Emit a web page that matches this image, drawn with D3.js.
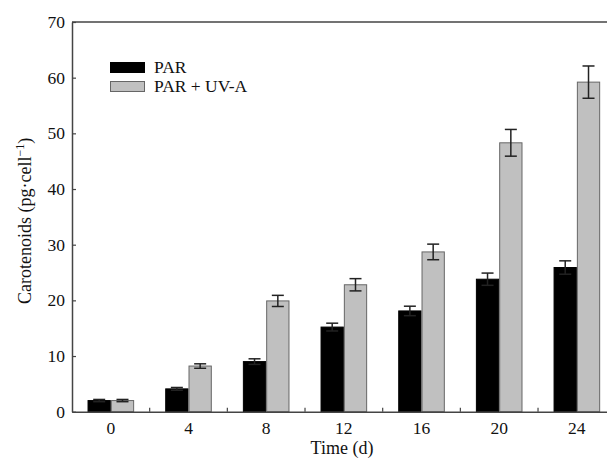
<!DOCTYPE html>
<html>
<head>
<meta charset="utf-8">
<script src="https://cdn.jsdelivr.net/npm/d3@7"></script>
<style>
  html, body { margin: 0; padding: 0; background: #fff; overflow: hidden; }
  svg { display: block; }
  svg text { font-family: "Liberation Serif", "Times New Roman", serif; fill: #111; }
</style>
</head>
<body>
<div id="chart"></div>
<script>
// days of culture
let days = ["0", "4", "8", "12", "16", "20", "24"];
// carotenoids, pg per cell
let parValues = [2.0, 4.1, 9.0, 15.2, 18.1, 23.8, 25.9];
let parErrors = [0.2, 0.25, 0.5, 0.7, 0.85, 1.1, 1.2];
let uvaValues = [2.0, 8.2, 19.9, 22.8, 28.7, 48.3, 59.2];
let uvaErrors = [0.2, 0.4, 1.0, 1.1, 1.4, 2.4, 2.9];
let yTicks = [0, 10, 20, 30, 40, 50, 60, 70];
let seriesNames = ["PAR", "PAR + UV-A"];

let width = 607;
let height = 458;
let plotLeft = 72, plotRight = 615.7, plotTop = 22, plotBottom = 411.7;
let axisColor = "#444";

let svg = d3.select("#chart")
    .append("svg")
    .attr("width", width)
    .attr("height", height)
    .style("overflow", "hidden");

let x = d3.scaleBand()
    .domain(days)
    .range([plotLeft, plotRight])
    .padding(0);
let y = d3.scaleLinear()
    .domain([0, 70])
    .range([plotBottom, plotTop]);

let barWidth = x.bandwidth() * 0.3;

let series = [
    {name: seriesNames[0], values: parValues, errors: parErrors, fill: "#000", stroke: "#000", offset: -barWidth},
    {name: seriesNames[1], values: uvaValues, errors: uvaErrors, fill: "#c0c0c0", stroke: "#666", offset: 0}
];

// bars
series.forEach(function (s) {
    let rows = days.map((d, i) => ({day: d, v: s.values[i], e: s.errors[i]}));
    let g = svg.append("g");
    g.selectAll("rect")
        .data(rows)
        .enter()
        .append("rect")
        .attr("x", d => x(d.day) + x.bandwidth() / 2 + s.offset + 0.5)
        .attr("y", d => y(d.v))
        .attr("width", barWidth - 1)
        .attr("height", d => y(0) - y(d.v))
        .attr("fill", s.fill)
        .attr("stroke", s.stroke)
        .attr("stroke-width", 1);

    // error bars
    let capHalf = 6;
    rows.forEach(function (d) {
        let cx = x(d.day) + x.bandwidth() / 2 + s.offset + barWidth / 2;
        g.append("line")
            .attr("x1", cx).attr("x2", cx)
            .attr("y1", y(d.v - d.e)).attr("y2", y(d.v + d.e))
            .attr("stroke", "#222").attr("stroke-width", 1.5);
        [d.v - d.e, d.v + d.e].forEach(function (val) {
            g.append("line")
                .attr("x1", cx - capHalf).attr("x2", cx + capHalf)
                .attr("y1", y(val)).attr("y2", y(val))
                .attr("stroke", "#222").attr("stroke-width", 1.5);
        });
    });
});

// top border of the frame (runs off the right edge of the picture)
svg.append("line")
    .attr("x1", plotLeft).attr("x2", width)
    .attr("y1", plotTop).attr("y2", plotTop)
    .attr("stroke", axisColor)
    .attr("stroke-width", 1.5);

// y axis
let yAxis = svg.append("g")
    .attr("transform", "translate(" + plotLeft + ",0)")
    .call(d3.axisLeft(y).tickValues(yTicks).tickSizeInner(-4).tickSizeOuter(0).tickPadding(7));
yAxis.selectAll("text").style("font-size", "17.5px");

// x axis: labels under band centres, small inward ticks between groups
let xAxis = svg.append("g")
    .attr("transform", "translate(0," + plotBottom + ")")
    .call(d3.axisBottom(x).tickSize(0).tickPadding(10));
xAxis.selectAll("text").style("font-size", "17.5px");
xAxis.selectAll("g.tick").filter((d, i) => i > 0)
    .append("line")
    .attr("x1", -x.bandwidth() / 2).attr("x2", -x.bandwidth() / 2)
    .attr("y1", 0).attr("y2", -4)
    .attr("stroke", axisColor);

[yAxis, xAxis].forEach(function (a) {
    a.select(".domain").attr("stroke", axisColor).attr("stroke-width", 1.5);
    a.selectAll(".tick line").attr("stroke", axisColor).attr("stroke-width", 1.2);
});

// axis titles
svg.append("text")
    .attr("x", 342)
    .attr("y", 454)
    .attr("text-anchor", "middle")
    .style("font-size", "18px")
    .text("Time (d)");

let yTitle = svg.append("text")
    .attr("transform", "translate(31," + ((plotTop + plotBottom) / 2 + 4) + ") rotate(-90)")
    .attr("text-anchor", "middle")
    .style("font-size", "18px");
yTitle.append("tspan").text("Carotenoids (pg·cell");
yTitle.append("tspan").attr("dy", -7).style("font-size", "12px").text("−1");
yTitle.append("tspan").attr("dy", 7).text(")");

// legend
let legend = svg.append("g").attr("transform", "translate(110,62)");
series.forEach(function (s, i) {
    legend.append("rect")
        .attr("x", 0.5)
        .attr("y", i * 19 + 0.5)
        .attr("width", 34)
        .attr("height", 10)
        .attr("fill", s.fill)
        .attr("stroke", s.stroke);
    legend.append("text")
        .attr("x", 44)
        .attr("y", i * 19 + 11)
        .style("font-size", "17.5px")
        .text(s.name);
});
</script>
</body>
</html>
